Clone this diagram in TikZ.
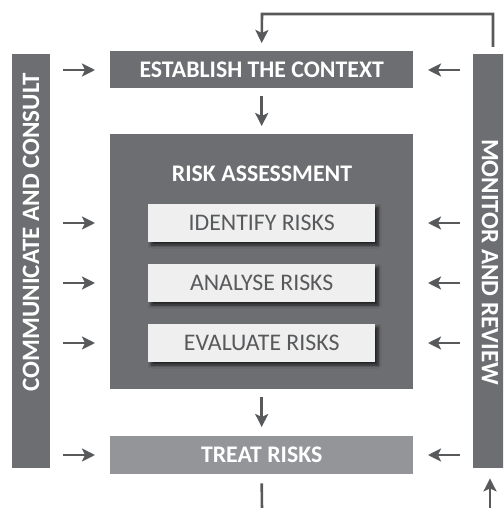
\documentclass[tikz,border=0pt]{standalone}
\usepackage{fontspec}
\setmainfont{Carlito}
\usetikzlibrary{arrows.meta,shadows.blur}
\definecolor{bargray}{HTML}{6D6E71}
\definecolor{treatgray}{HTML}{939598}
\definecolor{stepfill}{HTML}{EFEFEF}
\definecolor{steptext}{HTML}{58595B}
\definecolor{arrowgray}{HTML}{58595B}
\tikzset{
  flow/.style={draw=arrowgray, line width=2.6pt, -{Stealth[length=13pt,width=13pt,inset=3pt]}},
  plainline/.style={draw=arrowgray, line width=2.6pt},
  headbox/.style={fill=bargray, text=white, font=\bfseries\fontsize{23.8}{24}\selectfont, minimum width=303pt, minimum height=37pt, inner sep=0pt, anchor=north west},
  stepbox/.style={fill=stepfill, text=steptext, font=\fontsize{23.8}{24}\selectfont, minimum width=227pt, minimum height=38pt, inner sep=0pt, anchor=north west,
    blur shadow={shadow xshift=3pt, shadow yshift=-3pt, shadow blur steps=6, shadow blur radius=3pt, shadow opacity=70}},
  sidebar/.style={fill=bargray, minimum width=38pt, minimum height=414pt, inner sep=0pt, anchor=north west},
  sidetext/.style={text=white, font=\bfseries\fontsize{25}{25}\selectfont},
}
\begin{document}
\begin{tikzpicture}[x=1pt,y=-1pt]
\useasboundingbox (0,0) rectangle (503,508);
\begin{scope}
\clip (0,0) rectangle (503,508);
% side bars
\node[sidebar] (cc) at (12,54) {};
\node[sidebar] (mr) at (473,54) {};
\node[sidetext, rotate=90] (cctext) at (31,232) {COMMUNICATE AND CONSULT};
\node[sidetext, rotate=-90] (mrtext) at (490,262) {MONITOR AND REVIEW};
% main column
\node[headbox] (ctx) at (110,51) {ESTABLISH THE CONTEXT};
\node[fill=bargray, minimum width=303pt, minimum height=255pt, inner sep=0pt, anchor=north west] (ra) at (110,134) {};
\node[text=white, font=\bfseries\fontsize{23.8}{24}\selectfont] (ratitle) at (262,174) {RISK ASSESSMENT};
\node[stepbox] (id) at (148,204) {IDENTIFY RISKS};
\node[stepbox] (an) at (148,264) {ANALYSE RISKS};
\node[stepbox] (ev) at (148,324) {EVALUATE RISKS};
\node[headbox, fill=treatgray, minimum height=38pt] (tr) at (110,436) {TREAT RISKS};
% feedback loop from monitoring back to the context
\coordinate (fbtop) at (493,14);
\coordinate (fbcorner) at (262,14);
\draw[flow] (mr.north -| fbtop) ++(0,-7) |- (fbcorner) -- ([yshift=8pt]ctx.north);
% main downward flow
\draw[flow] ([yshift=-8pt]ctx.south) -- ([yshift=8pt]ra.north);
\draw[flow] ([yshift=-8pt]ra.south) -- ([yshift=9pt]tr.north);
\coordinate (outlet) at (262,510);
\draw[plainline] ([yshift=-9pt]tr.south) -- (outlet);
\coordinate (inlet) at (490,510);
\draw[flow] (inlet) -- ([yshift=-10pt]mr.south -| inlet);
% side arrows into each step
\coordinate (lx) at (63,0);
\coordinate (ltip) at (95,0);
\coordinate (rx) at (460,0);
\coordinate (rtip) at (428,0);
\foreach \n/\y in {ctx/70,id/223,an/283,ev/343,tr/455}{
  \draw[flow] (lx |- 0,\y) -- (ltip |- 0,\y);
  \draw[flow] (rx |- 0,\y) -- (rtip |- 0,\y);
}
\end{scope}
\end{tikzpicture}
\end{document}
